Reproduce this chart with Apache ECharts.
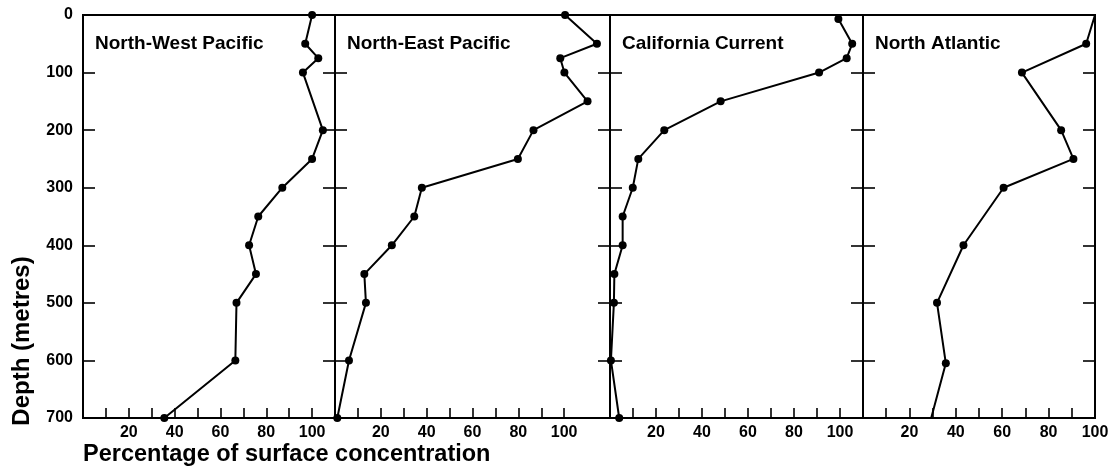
<!DOCTYPE html>
<html>
<head>
<meta charset="utf-8">
<script src="https://cdn.jsdelivr.net/npm/echarts@6/dist/echarts.min.js"></script>
<style>
html,body{margin:0;padding:0;background:#fff;}
#chart{width:1116px;height:467px;}
</style>
</head>
<body>
<div id="chart"></div>
<script>
// ---- data ----
const panelNames = ['North-West Pacific', 'North-East Pacific', 'California Current', 'North Atlantic'];
const panelMax = [110, 120, 110, 100];
const depthTicks = [0, 100, 200, 300, 400, 500, 600, 700];
const pctTickLabels = [20, 40, 60, 80, 100];
const pctMinorTicks = [10, 20, 30, 40, 50, 60, 70, 80, 90, 100];

const depthNW = [0, 50, 75, 100, 200, 250, 300, 350, 400, 450, 500, 600, 700];
const valueNW = [100, 97, 102.7, 96, 104.7, 100, 87, 76.5, 72.5, 75.5, 67, 66.5, 35.5];

const depthNE = [0, 50, 75, 100, 150, 200, 250, 300, 350, 400, 450, 500, 600, 700];
const valueNE = [100.4, 114.3, 98.3, 100.1, 110.2, 86.6, 79.8, 37.9, 34.6, 24.8, 12.8, 13.5, 6.1, 1.0];

const depthCC = [7, 50, 75, 100, 150, 200, 250, 300, 350, 400, 450, 500, 600, 700];
const valueCC = [99.3, 105.3, 102.9, 90.9, 48.1, 23.6, 12.3, 9.9, 5.5, 5.5, 1.9, 1.7, 0.4, 4.0];

const depthNA = [0, 50, 100, 200, 250, 300, 400, 500, 605, 700];
const valueNA = [100, 96.2, 68.5, 85.4, 90.7, 60.6, 43.3, 31.9, 35.7, 29.4];

const depths = [depthNW, depthNE, depthCC, depthNA];
const values = [valueNW, valueNE, valueCC, valueNA];
// points drawn without a marker (end segments of the North Atlantic profile)
const unmarked = [[], [], [], [0, depthNA.length - 1]];

// ---- layout ----
const gridEdges = [83, 335, 610, 863, 1095];
const gridTop = 15, gridBottomY = 418;
const FONT = '"Liberation Sans", Arial, sans-serif';

const grids = [], xAxes = [], yAxes = [], series = [], graphics = [];
for (let i = 0; i < 4; i++) {
  grids.push({
    left: gridEdges[i], top: gridTop,
    width: gridEdges[i + 1] - gridEdges[i], height: gridBottomY - gridTop,
    show: true, borderColor: '#000', borderWidth: 2, backgroundColor: 'transparent'
  });
  xAxes.push({
    type: 'value', gridIndex: i, min: 0, max: panelMax[i], interval: 10,
    position: 'bottom',
    axisLine: {show: false, onZero: false},
    splitLine: {show: false},
    axisTick: {show: true, inside: true, length: 10, customValues: pctMinorTicks,
      lineStyle: {color: '#000', width: 1.6}},
    axisLabel: {show: true, customValues: pctTickLabels, margin: 7,
      color: '#000', fontFamily: FONT, fontWeight: 'bold', fontSize: 16}
  });
  // left y axis
  yAxes.push({
    type: 'value', gridIndex: i, inverse: true, min: 0, max: 700, interval: 100,
    position: 'left',
    axisLine: {show: false, onZero: false}, splitLine: {show: false},
    axisTick: {show: true, inside: true, length: 12, lineStyle: {color: '#000', width: 1.6}},
    axisLabel: {show: i === 0, margin: 10, color: '#000', fontFamily: FONT,
      fontWeight: 'bold', fontSize: 16,
      formatter: v => depthTicks.indexOf(v) >= 0 ? String(v) : ''}
  });
  // right y axis (ticks only)
  yAxes.push({
    type: 'value', gridIndex: i, inverse: true, min: 0, max: 700, interval: 100,
    position: 'right',
    axisLine: {show: false, onZero: false}, splitLine: {show: false},
    axisTick: {show: true, inside: true, length: 12, lineStyle: {color: '#000', width: 1.6}},
    axisLabel: {show: false}
  });
  const data = values[i].map((v, k) => {
    const item = {value: [v, depths[i][k]]};
    if (unmarked[i].indexOf(k) >= 0) item.symbolSize = 0;
    return item;
  });
  series.push({
    type: 'line', xAxisIndex: i, yAxisIndex: 2 * i,
    data: data, symbol: 'circle', symbolSize: 8, clip: false,
    lineStyle: {color: '#000', width: 2},
    itemStyle: {color: '#000'},
    emphasis: {disabled: true},
    z: 5
  });
  graphics.push({
    type: 'text', left: gridEdges[i] + 12, top: 34,
    style: {text: panelNames[i], font: 'bold 19px ' + FONT, fill: '#000'}
  });
}

graphics.push({
  type: 'text', x: 22, y: 341, rotation: Math.PI / 2,
  style: {text: 'Depth (metres)', font: 'bold 24px ' + FONT, fill: '#000',
    align: 'center', verticalAlign: 'middle'}
});
graphics.push({
  type: 'text', x: 83, y: 455,
  style: {text: 'Percentage of surface concentration', font: 'bold 23.5px ' + FONT, fill: '#000',
    align: 'left', verticalAlign: 'middle'}
});

const chart = echarts.init(document.getElementById('chart'), null, {renderer: 'canvas'});
chart.setOption({
  animation: false,
  backgroundColor: '#fff',
  grid: grids,
  xAxis: xAxes,
  yAxis: yAxes,
  series: series,
  graphic: graphics
});
</script>
</body>
</html>
